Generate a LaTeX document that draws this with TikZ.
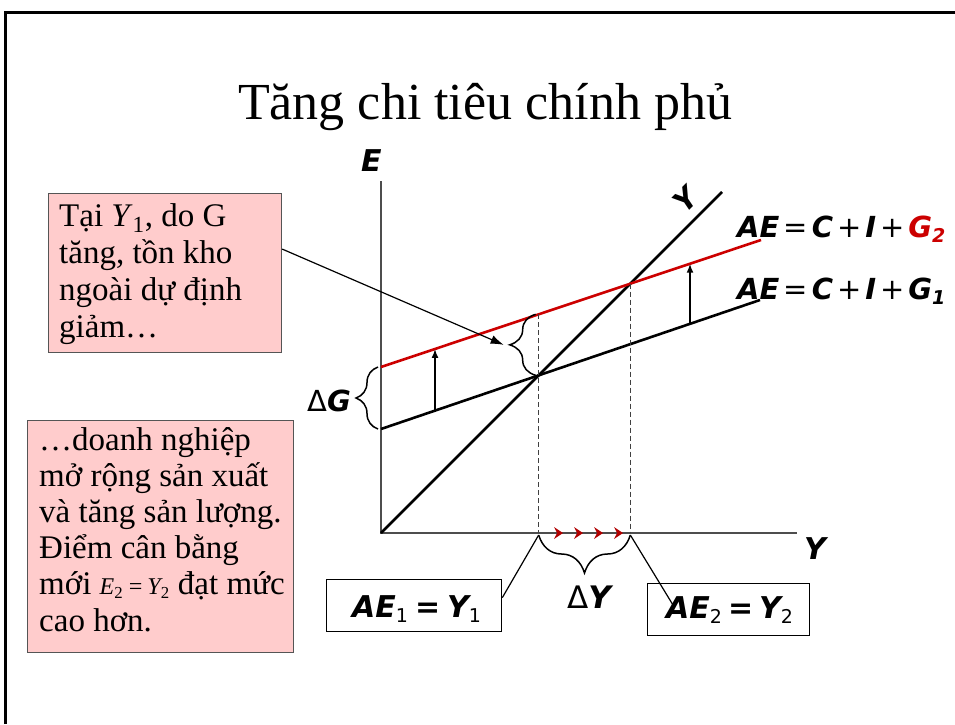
\documentclass[tikz,border=0pt]{standalone}
\usepackage{fontspec}
\setmainfont{Liberation Serif}
\newfontfamily\labfont{DejaVu Sans}
\usetikzlibrary{arrows.meta,decorations.pathreplacing,calc,intersections}
\definecolor{pinkfill}{HTML}{FFCCCC}
\definecolor{aered}{HTML}{CC0000}
\definecolor{arrred}{HTML}{B00000}
\definecolor{axisgray}{HTML}{4D4D4D}
\definecolor{boxgray}{HTML}{555555}
\newcommand{\biL}[1]{{\labfont\bfseries\itshape #1}}
\newcommand{\opL}[1]{\hspace{4pt}{\labfont #1}\hspace{4pt}}
\newcommand{\subL}[1]{\raisebox{-5pt}{\fontsize{19}{19}\selectfont #1}}
\begin{document}
\begin{tikzpicture}[x=1pt,y=-1pt,
  frameline/.style={line width=3pt,black},
  axis/.style={line width=1.6pt,axisgray},
  curve/.style={line width=2.6pt},
  dashline/.style={line width=1.5pt,black!75,dash pattern=on 5pt off 3pt},
  shiftarrow/.style={line width=1.6pt,-{Latex[length=9pt,width=7pt]}},
  bracestyle/.style={line width=1.5pt,decorate},
  pinkbox/.style={draw=boxgray,line width=1.2pt,fill=pinkfill,inner sep=0pt},
  whitebox/.style={draw=black,line width=1.3pt,fill=white,inner sep=0pt},
  boxtext/.style={inner sep=0pt,font=\fontsize{33}{37}\selectfont},
  connector/.style={line width=1.2pt,black}]
\useasboundingbox (0,0) rectangle (955,724);
\draw[frameline] (5.5,724) -- (5.5,12) -- (955,12);

\node[anchor=base,inner sep=0pt,font=\fontsize{52}{52}\selectfont] (title) at (485,119) {Tăng chi tiêu chính phủ};

% axes
\coordinate (O) at (381,533);
\coordinate (ytop) at (381,181);
\coordinate (xend) at (797,533);
\draw[axis] (ytop) -- (O) -- (xend);
\node[anchor=base west,inner sep=0pt,font=\fontsize{30}{30}\selectfont] (Elab) at (361,171) {\biL{E}};
\node[anchor=base west,inner sep=0pt,font=\fontsize{30}{30}\selectfont] (Ylab) at (804,559) {\biL{Y}};

% lines
\coordinate (yend) at (722,192);
\coordinate (a1s) at (381,429);
\coordinate (a1e) at (760,300);
\coordinate (a2s) at (381,367);
\coordinate (a2e) at (761,240);
\draw[curve,black,name path=yl] (O) -- (yend);
\draw[curve,black,name path=ae1] (a1s) -- (a1e);
\draw[curve,aered,name path=ae2] (a2s) -- (a2e);
\node[rotate=45,inner sep=0pt,font=\fontsize{29}{29}\selectfont] (Yrot) at (685,200) {\biL{Y}};

\path[name intersections={of=yl and ae1,by=E1}];
\path[name intersections={of=yl and ae2,by=E2}];
\coordinate (X1) at (E1 |- O);
\coordinate (X2) at (E2 |- O);
\path[name path=v1] (E1 |- 0,200) -- (X1);
\path[name intersections={of=v1 and ae2,by=R1}];
\draw[dashline] (R1) -- (X1);
\draw[dashline] (E2) -- (X2);

% shift arrows
\path[name path=v3] (435,200) -- (435,533);
\path[name intersections={of=v3 and ae1,by=B3}];
\path[name intersections={of=v3 and ae2,by=R3}];
\draw[shiftarrow] (B3) -- (R3);
\path[name path=v4] (690,200) -- (690,533);
\path[name intersections={of=v4 and ae1,by=B4}];
\path[name intersections={of=v4 and ae2,by=R4}];
\draw[shiftarrow] (B4) -- (R4);

% red arrowheads on axis
\foreach \k in {0,1,2,3}
  \fill[arrred] (563+20*\k,533) -- ++(-9,-6) -- ++(3,6) -- ++(-3,6) -- cycle;

% braces
\draw[bracestyle,decoration={brace,amplitude=26pt}] ($(E1)+(-3,0)$) -- ($(R1)+(-3,0)$);
\coordinate (btip) at ($(E1)!0.5!(R1)+(-31,0)$);
\draw[bracestyle,decoration={brace,amplitude=22pt}] (378,429) -- (378,367);
\node[anchor=base east,inner sep=0pt,font=\fontsize{29}{29}\selectfont] (dG) at (351,411) {{\labfont Δ}\biL{G}};
\draw[bracestyle,decoration={brace,amplitude=38pt}] ($(X2)+(0,2)$) -- ($(X1)+(0,2)$);
\node[anchor=base,inner sep=0pt,font=\fontsize{31}{31}\selectfont] (dY) at (589,608) {{\labfont Δ}\biL{Y}};

% curve labels
\node[anchor=base west,inner sep=0pt,font=\fontsize{29}{29}\selectfont] (lab2) at (737,237)
  {\biL{AE}\opL{=}\biL{C}\opL{+}\biL{I}\opL{+}\textcolor{aered}{\biL{G}\subL{\biL{2}}}};
\node[anchor=base west,inner sep=0pt,font=\fontsize{29}{29}\selectfont] (lab1) at (737,299)
  {\biL{AE}\opL{=}\biL{C}\opL{+}\biL{I}\opL{+}\biL{G}\subL{\biL{1}}};

% box 1
\node[pinkbox,minimum width=233pt,minimum height=159pt,anchor=north west] (box1) at (48,193) {};
\foreach \t [count=\i] in {{Tại \textit{Y}\textsubscript{1}, do G},{tăng, tồn kho},{ngoài dự định},{giảm…}}
  \node[boxtext,anchor=base west] (b1l\i) at (59,{226+37*(\i-1)}) {\t};
\draw[connector,-{Latex[length=13pt,width=9pt]}] ($(box1.north east)!0.35!(box1.south east)$) -- ($(btip)+(-4,0)$);

% box 2
\node[pinkbox,minimum width=266pt,minimum height=232pt,anchor=north west] (box2) at (27,420) {};
\foreach \t [count=\i] in {{…doanh nghiệp},{mở rộng sản xuất},{và tăng sản lượng.},{Điểm cân bằng},{mới {\fontsize{24}{24}\selectfont\itshape E\textsubscript{\upshape 2}\,=\,Y\textsubscript{\upshape 2}} đạt mức},{cao hơn.}}
  \node[boxtext,anchor=base west] (b2l\i) at (39,{450+36.2*(\i-1)}) {\t};

% box 3 and 4
\node[whitebox,minimum width=175pt,minimum height=52pt,anchor=north west] (box3) at (326,579) {};
\node[anchor=base west,inner sep=0pt,font=\fontsize{30}{30}\selectfont] (t3) at (352,617)
  {\biL{AE}\subL{\labfont 1}\hspace{7pt}{\labfont\bfseries =}\hspace{7pt}\biL{Y}\subL{\labfont 1}};
\node[whitebox,minimum width=162pt,minimum height=52pt,anchor=north west] (box4) at (647,583) {};
\node[anchor=base west,inner sep=0pt,font=\fontsize{30}{30}\selectfont] (t4) at (666,618)
  {\biL{AE}\subL{\labfont 2}\hspace{6pt}{\labfont\bfseries =}\hspace{6pt}\biL{Y}\subL{\labfont 2}};
\coordinate (c4) at (673,605);
\draw[connector] ($(X1)+(0,2)$) -- ($(box3.north east)!0.35!(box3.south east)$);
\draw[connector] ($(X2)+(0,2)$) -- (c4);
\end{tikzpicture}
\end{document}
